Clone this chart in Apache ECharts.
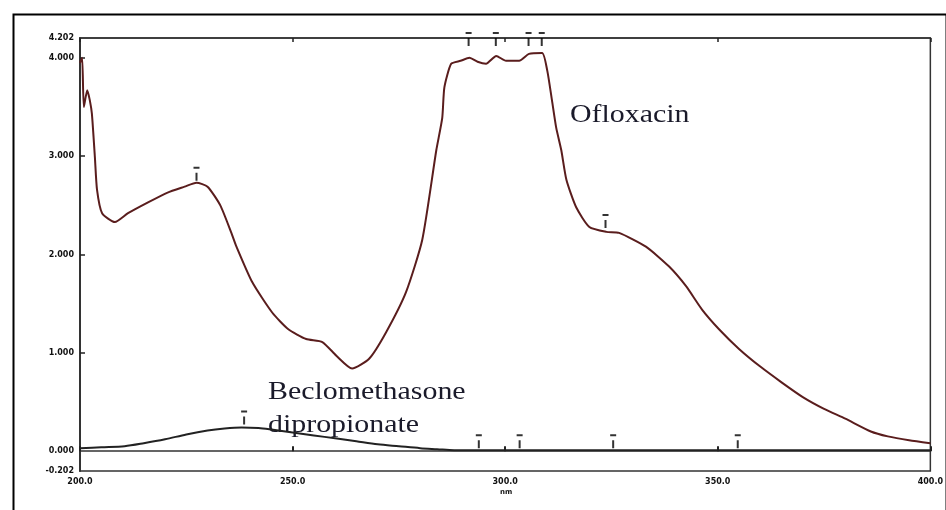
<!DOCTYPE html>
<html>
<head>
<meta charset="utf-8">
<script src="https://cdn.jsdelivr.net/npm/echarts@6/dist/echarts.min.js"></script>
<style>
html, body { margin: 0; padding: 0; background: #fff; }
#chart { width: 946px; height: 510px; }
</style>
</head>
<body>
<div id="chart"></div>
<script>
// wavelength (nm) / absorbance
const oflWave = [200.0, 200.5, 200.9, 201.7, 202.3, 202.8, 203.5, 204.0, 205.2, 208.2, 211.3, 216.0, 220.6, 224.6, 227.4, 230.0, 233.0, 235.6, 236.8, 240.5, 245.2, 249.0, 253.2, 257.0, 260.3, 264.0, 268.0, 272.0, 276.7, 280.5, 283.8, 285.2, 285.7, 287.3, 289.5, 291.6, 293.5, 295.5, 297.9, 300.2, 303.3, 305.6, 308.7, 309.9, 311.0, 312.0, 313.2, 314.4, 316.7, 319.8, 323.8, 326.8, 333.1, 338.5, 342.5, 346.3, 350.3, 355.0, 360.0, 365.0, 370.0, 375.0, 380.0, 386.0, 390.0, 395.0, 400.0];
const oflAbs = [3.95, 4.00, 3.50, 3.67, 3.57, 3.43, 2.99, 2.66, 2.42, 2.33, 2.42, 2.53, 2.63, 2.69, 2.73, 2.69, 2.50, 2.22, 2.08, 1.72, 1.41, 1.24, 1.14, 1.11, 0.97, 0.84, 0.94, 1.21, 1.62, 2.15, 3.06, 3.39, 3.70, 3.94, 3.97, 4.00, 3.96, 3.94, 4.02, 3.97, 3.97, 4.04, 4.05, 3.87, 3.57, 3.29, 3.06, 2.76, 2.48, 2.28, 2.23, 2.22, 2.08, 1.88, 1.68, 1.44, 1.24, 1.04, 0.86, 0.70, 0.55, 0.43, 0.33, 0.20, 0.15, 0.11, 0.08];

const becWave = [200, 205, 210.5, 215, 220, 225, 230, 234, 238, 242, 245, 250, 255, 260, 265, 270, 275, 280, 284, 288, 300, 320, 340, 360, 380, 400];
const becAbs = [0.03, 0.04, 0.05, 0.08, 0.12, 0.17, 0.21, 0.23, 0.24, 0.235, 0.22, 0.19, 0.16, 0.13, 0.10, 0.07, 0.05, 0.03, 0.02, 0.01, 0.01, 0.01, 0.01, 0.01, 0.01, 0.01];

// little peak pick markers
const peakWave = [227.4, 323.6, 291.4, 297.8, 305.5, 308.6, 238.6, 293.8, 303.4, 325.4, 354.7];
const peakAbs = [2.73, 2.25, 4.10, 4.10, 4.10, 4.10, 0.25, 0.01, 0.01, 0.01, 0.01];

const yTicks = [-0.202, 0, 1, 2, 3, 4, 4.202];
const xTicks = [200, 250, 300, 350, 400];

const chart = echarts.init(document.getElementById('chart'));

const tickFont = { color: '#111', fontSize: 8, fontWeight: 'bold', fontFamily: 'DejaVu Sans' };

const option = {
  backgroundColor: '#fff',
  animation: false,
  grid: {
    left: 80, right: 13, top: 38, bottom: 39,
    show: true, borderColor: '#333', borderWidth: 1.5
  },
  xAxis: [
    {
      type: 'value', min: 200, max: 400, interval: 50,
      axisLine: { lineStyle: { color: '#333', width: 1.5 } },
      axisTick: { inside: true, length: 5, lineStyle: { color: '#222', width: 2 } },
      splitLine: { show: false },
      axisLabel: Object.assign({}, tickFont, {
        margin: 7,
        customValues: xTicks,
        formatter: v => v.toFixed(1)
      })
    },
    {
      type: 'value', min: 200, max: 400, interval: 50, position: 'top',
      axisLine: { lineStyle: { color: '#333', width: 1.5 } },
      axisTick: { inside: true, length: 4, lineStyle: { color: '#222', width: 1.5 } },
      axisLabel: { show: false },
      splitLine: { show: false }
    }
  ],
  yAxis: {
    type: 'value', min: -0.202, max: 4.202,
    axisLine: { show: true, lineStyle: { color: '#333', width: 2 } },
    axisTick: { inside: true, length: 5, customValues: [1, 2, 3, 4], lineStyle: { color: '#222', width: 1.5 } },
    splitLine: { show: false },
    axisLabel: Object.assign({}, tickFont, {
      margin: 6,
      customValues: yTicks,
      formatter: v => v.toFixed(3)
    })
  },
  series: [
    {
      name: 'Ofloxacin',
      type: 'line',
      data: oflWave.map((w, i) => [w, oflAbs[i]]),
      showSymbol: false,
      smooth: 0.2,
      lineStyle: { color: '#5a1d1d', width: 2 }
    },
    {
      name: 'Beclomethasone dipropionate',
      type: 'line',
      data: becWave.map((w, i) => [w, becAbs[i]]),
      showSymbol: false,
      smooth: 0.3,
      lineStyle: { color: '#222', width: 2 }
    },
    {
      name: 'peaks',
      type: 'scatter',
      clip: false,
      data: peakWave.map((w, i) => [w, peakAbs[i]]),
      symbol: 'path://M0,0 h6 v2 h-6 z M2,6 h2 v8 h-2 z',
      symbolSize: [6, 14],
      symbolOffset: [0, -9],
      itemStyle: { color: '#000' }
    }
  ],
  graphic: [
    {
      type: 'rect', left: 11, top: 12, silent: true,
      shape: { width: 933, height: 520 },
      style: { fill: 'none', stroke: '#000', lineWidth: 2 }
    },
    {
      type: 'text', left: 570, top: 102, scaleX: 1.15,
      style: { text: 'Ofloxacin', fill: '#1a1a2a', font: '26px "Liberation Serif"' }
    },
    {
      type: 'text', left: 268, top: 379, scaleX: 1.15,
      style: { text: 'Beclomethasone', fill: '#1a1a2a', font: '26px "Liberation Serif"' }
    },
    {
      type: 'text', left: 268, top: 412, scaleX: 1.15,
      style: { text: 'dipropionate', fill: '#1a1a2a', font: '26px "Liberation Serif"' }
    },
    {
      type: 'text', left: 500, top: 489,
      style: { text: 'nm', fill: '#111', font: 'bold 7px "DejaVu Sans"' }
    }
  ]
};

chart.setOption(option);
</script>
</body>
</html>
